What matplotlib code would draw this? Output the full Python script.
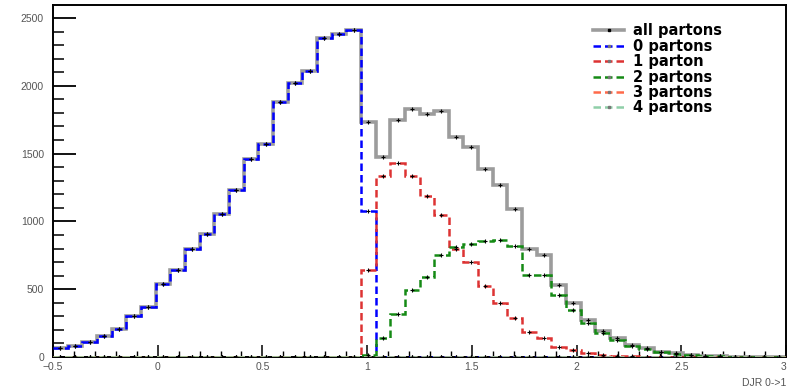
import numpy as np
import matplotlib.pyplot as plt
from matplotlib.lines import Line2D
from matplotlib.ticker import MultipleLocator

# binning of the DJR 0->1 histograms
n_bins = 50
x_lo, x_hi = -0.5, 3.0

all_partons = [64, 78, 108, 155, 208, 301, 368, 542, 640, 800,
               910, 1057, 1228, 1461, 1571, 1877, 2024, 2110, 2355, 2380,
               2415, 1735, 1473, 1745, 1829, 1792, 1816, 1620, 1546, 1390,
               1265, 1093, 799, 750, 529, 395, 272, 190, 137, 88,
               64, 39, 27, 15, 8, 4, 2, 1, 0, 0]
zero_partons = [64, 78, 108, 155, 208, 301, 368, 542, 640, 800,
                910, 1057, 1228, 1461, 1571, 1877, 2024, 2110, 2355, 2380,
                2415, 1080, 0, 0, 0, 0, 0, 0, 0, 0,
                0, 0, 0, 0, 0, 0, 0, 0, 0, 0,
                0, 0, 0, 0, 0, 0, 0, 0, 0, 0]
one_parton = [0, 0, 0, 0, 0, 0, 0, 0, 0, 0,
              0, 0, 0, 0, 0, 0, 0, 0, 0, 0,
              0, 640, 1335, 1430, 1338, 1191, 1050, 800, 700, 520,
              395, 284, 186, 137, 76, 51, 27, 15, 8, 4,
              2, 0, 0, 0, 0, 0, 0, 0, 0, 0]
two_partons = [0, 0, 0, 0, 0, 0, 0, 0, 0, 0,
               0, 0, 0, 0, 0, 0, 0, 0, 0, 0,
               0, 15, 140, 315, 493, 590, 750, 811, 836, 855,
               860, 816, 603, 603, 456, 350, 250, 174, 125, 82,
               58, 37, 23, 13, 7, 4, 2, 1, 0, 0]
three_partons = [0] * 30 + [1, 2, 3, 3, 2, 2, 1, 1, 0, 0] + [0] * 10
four_partons = [0] * 50

labels = ["all partons", "0 partons", "1 parton", "2 partons", "3 partons", "4 partons"]
colors = ["#9c9c9c", "#0000ff", "#dd3333", "#158a15", "#ff6a4a", "#8fcfa8"]
x_ticks = [-0.5, 0, 0.5, 1, 1.5, 2, 2.5, 3]
x_tick_labels = ["\u22120.5", "0", "0.5", "1", "1.5", "2", "2.5", "3"]

plt.rcParams['font.family'] = ['Liberation Sans', 'DejaVu Sans']

fig = plt.figure(figsize=(7.87, 3.92), dpi=100)
ax = fig.add_axes([53 / 787, 1 - 357 / 392, 733 / 787, 352 / 392])

edges = np.linspace(x_lo, x_hi, n_bins + 1)
centers = 0.5 * (edges[:-1] + edges[1:])

series = [all_partons, zero_partons, one_parton, two_partons, three_partons, four_partons]
handles = []
for i, (vals, col, lab) in enumerate(zip(series, colors, labels)):
    if i == 0:
        ax.stairs(vals, edges, baseline=None, color=col, lw=2.6, zorder=2)
        ls = '-'
        mcol = 'k'
    else:
        ls = (0, (3, 1.6))
        ax.stairs(vals, edges, baseline=None, color=col, lw=1.8, ls=ls, zorder=3 + i)
        mcol = '#777777'
    ax.plot(centers, vals, '+', color='k', ms=3.5, mew=0.8, zorder=10)
    handles.append(Line2D([], [], color=col, lw=2.6 if i == 0 else 1.8, ls=ls,
                          marker='s', ms=2, mfc=mcol, mec=mcol))

ax.set_xlim(x_lo, x_hi)
ax.set_ylim(0, 2596)
ax.set_xticks(x_ticks)
ax.set_xticklabels(x_tick_labels)
ax.xaxis.set_minor_locator(MultipleLocator(0.1))
ax.yaxis.set_major_locator(MultipleLocator(500))
ax.yaxis.set_minor_locator(MultipleLocator(100))

ax.tick_params(axis='y', which='major', direction='in', length=16.5, width=1.3,
               pad=6.5, labelsize=7.5, labelcolor='#555555')
ax.tick_params(axis='y', which='minor', direction='in', length=8, width=1.1)
ax.tick_params(axis='x', which='major', direction='in', length=8.6, width=1.1,
               pad=3.5, labelsize=7.5, labelcolor='#555555')
ax.tick_params(axis='x', which='minor', direction='in', length=4.3, width=1.0)
for side in ['left', 'bottom', 'top', 'right']:
    ax.spines[side].set_linewidth(1.4)

# last x label sits on the figure edge: keep it inside
ax.xaxis.get_major_ticks()[-1].label1.set_horizontalalignment('right')

fig.text(786 / 787, 1 - 383 / 392, "DJR 0->1", fontsize=7.5, color='#555555',
         ha='right', va='center')

leg = ax.legend(handles, labels, loc='upper left', bbox_to_anchor=(586 / 787, 1 - 16 / 392),
                bbox_transform=fig.transFigure, frameon=False, borderpad=0,
                handlelength=2.1, handletextpad=0.6, labelspacing=0.03,
                prop={'family': 'DejaVu Sans', 'size': 10.5, 'weight': 'bold'})

fig.savefig("out.png", dpi=100)
